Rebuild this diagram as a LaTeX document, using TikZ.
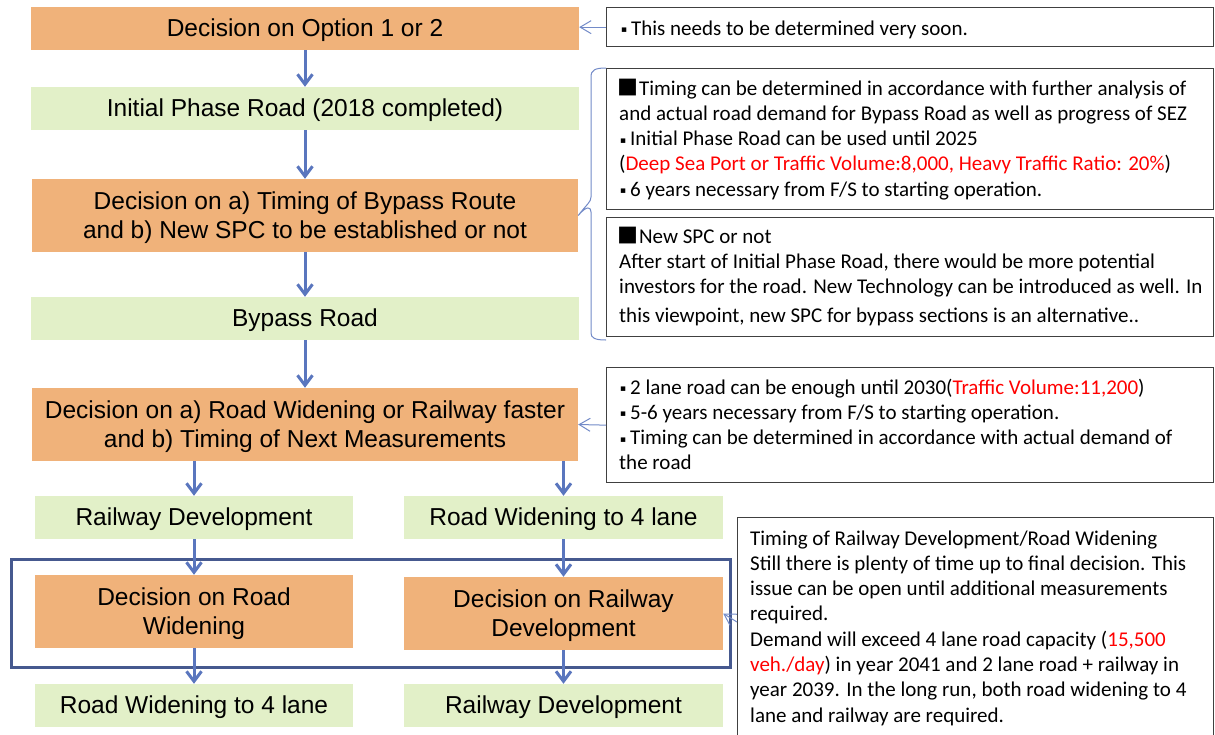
\documentclass[tikz,border=0pt]{standalone}
\usepackage{fontspec}
\setmainfont{Liberation Sans}
\newfontfamily\notefont{Carlito}
\newfontfamily\cjk{Noto Sans CJK JP}
\newfontfamily\symfont{DejaVu Sans}
\usetikzlibrary{arrows.meta}

\definecolor{decfill}{HTML}{F0B27A}
\definecolor{phasefill}{HTML}{E2F0C8}
\definecolor{flowblue}{HTML}{5A76BE}
\definecolor{framecol}{HTML}{46598F}
\definecolor{noteline}{HTML}{404040}
\definecolor{notered}{HTML}{FF0000}

% bullet marks used in the notes
\newcommand\dotmark{\makebox[0.52em][l]{\hspace{0.04em}\raisebox{0.12em}{\symfont\fontsize{9}{9}\selectfont ▪}}}
\newcommand\sqmark{\makebox[0.95em][l]{\hspace{-0.08em}{\cjk ■}}}
\newcommand\hl[1]{\textcolor{notered}{#1}}
% centred label text of the flow boxes, set slightly low as in a slide
\newcommand\stagetext[1]{\raisebox{-2.6pt}[\height][\depth]{\begin{tabular}{@{}c@{}}#1\end{tabular}}}

\begin{document}
\begin{tikzpicture}[x=1pt,y=-1pt,
  stage/.style={rectangle, inner sep=0pt,
    font=\fontsize{24.5}{29}\selectfont, text=black},
  decision/.style={stage, fill=decfill},
  phase/.style={stage, fill=phasefill},
  flow/.style={draw=flowblue, line width=3pt,
    -{Straight Barb[length=10pt,width=15pt]}},
  notebox/.style={draw=noteline, line width=1.3pt, inner sep=0pt,
    anchor=north west, fill=white},
  notetext/.style={anchor=base west, inner sep=0pt,
    font=\notefont\fontsize{21}{25.3}\selectfont},
  pointer/.style={draw=flowblue!85, line width=1pt,
    -{Straight Barb[length=11pt,width=13pt]}},
  bracket/.style={draw=flowblue!85, line width=1pt},
  groupframe/.style={draw=framecol, line width=2.5pt, inner sep=0pt,
    anchor=north west},
]
\useasboundingbox (0,0) rectangle (1215,734);
\clip (0,0) rectangle (1215,734);
\fill[white] (0,0) rectangle (1215,734);

% main flow
\node[decision, minimum width=548pt, minimum height=43pt] (opt) at (305,28.5)
  {\stagetext{Decision on Option 1 or 2}};
\node[phase, minimum width=548pt, minimum height=43pt] (init) at (305,108.5)
  {\stagetext{Initial Phase Road (2018 completed)}};
\node[decision, minimum width=546pt, minimum height=73pt] (decA) at (305,215.5)
  {\stagetext{Decision on a) Timing of Bypass Route\\and b) New SPC to be established or not}};
\node[phase, minimum width=548pt, minimum height=43pt] (bypass) at (305,318.5)
  {\stagetext{Bypass Road}};
\node[decision, minimum width=546pt, minimum height=73pt] (decB) at (305,424.5)
  {\stagetext{Decision on a) Road Widening or Railway faster\\and b) Timing of Next Measurements}};

% two branches
\node[phase, minimum width=318pt, minimum height=43pt] (rail1) at (194,517.5)
  {\stagetext{Railway Development}};
\node[phase, minimum width=319pt, minimum height=43pt] (road1) at (563.5,517.5)
  {\stagetext{Road Widening to 4 lane}};

\node[groupframe, minimum width=719pt, minimum height=108pt] (group) at (10,558) {};

\node[decision, minimum width=318pt, minimum height=73pt] (decRW) at (194,611.5)
  {\stagetext{Decision on Road\\Widening}};
\node[decision, minimum width=319pt, minimum height=73pt] (decRD) at (563.5,613.5)
  {\stagetext{Decision on Railway\\Development}};
\node[phase, minimum width=318pt, minimum height=43pt] (road2) at (194,705.5)
  {\stagetext{Road Widening to 4 lane}};
\node[phase, minimum width=319pt, minimum height=43pt] (rail2) at (563.5,705.5)
  {\stagetext{Railway Development}};

% flow arrows
\draw[flow] (opt.south) -- (init.north);
\draw[flow] (init.south) -- (decA.north);
\draw[flow] (decA.south) -- (bypass.north);
\draw[flow] (bypass.south) -- (decB.north);
\draw[flow] (decB.south -| rail1) -- (rail1.north);
\draw[flow] (decB.south -| road1) -- (road1.north);
\draw[flow] (rail1.south) -- (decRW.north);
\draw[flow] (road1.south) -- (decRD.north);
\draw[flow] (decRW.south) -- (road2.north);
\draw[flow] (decRD.south) -- (rail2.north);

% notes
\node[notebox, minimum width=607pt, minimum height=39pt] (n1) at (606,7) {};
\node[notetext] (t1) at (620,35) {\dotmark This needs to be determined very soon.};

\node[notebox, minimum width=607pt, minimum height=141pt] (n2) at (606,68) {};
\node[notetext] (t2) at (619,95) {\parbox[t]{590pt}{\raggedright
  \sqmark Timing can be determined in accordance with further analysis of\\
  and actual road demand for Bypass Road as well as progress of SEZ\\
  \dotmark Initial Phase Road can be used until 2025\\
  (\hl{Deep Sea Port or Traffic Volume:8,000, Heavy Traffic Ratio: 20\%})\\
  \dotmark 6 years necessary from F/S to starting operation.}};

\node[notebox, minimum width=607pt, minimum height=119pt] (n3) at (606,217) {};
\node[notetext] (t3) at (619,243) {\parbox[t]{590pt}{\raggedright
  \sqmark New SPC or not\\
  After start of Initial Phase Road, there would be more potential\\
  investors for the road. New Technology can be introduced as well. In\\[3.7pt]
  this viewpoint, new SPC for bypass sections is an alternative..}};

\node[notebox, minimum width=607pt, minimum height=115pt] (n4) at (606,367) {};
\node[notetext] (t4) at (619,394) {\parbox[t]{590pt}{\raggedright
  \dotmark 2 lane road can be enough until 2030(\hl{Traffic Volume:11,200})\\
  \dotmark 5-6 years necessary from F/S to starting operation.\\
  \dotmark Timing can be determined in accordance with actual demand of\\
  the road}};

\node[notebox, minimum width=476pt, minimum height=240pt] (n5) at (737,517) {};
\node[notetext] (t5) at (750,545) {\parbox[t]{460pt}{\raggedright
  Timing of Railway Development/Road Widening\\
  Still there is plenty of time up to final decision. This\\
  issue can be open until additional measurements\\
  required.\\
  Demand will exceed 4 lane road capacity (\hl{15,500}\\
  \hl{veh./day}) in year 2041 and 2 lane road + railway in\\
  year 2039. In the long run, both road widening to 4\\
  lane and railway are required.}};

% pointers from notes to decisions
\draw[pointer] (n1.west) -- (opt.east |- n1.west);
\draw[pointer] (n4.west) -- (decB.east);
\draw[pointer] ([yshift=-105pt]n5.north west) -- (decRD.east);

% bracket grouping the two notes on the bypass decision
\draw[bracket] (n2.north west) .. controls (595,68) and (591,70) .. (591,77)
  -- (591,197) .. controls (591,202) and (587,204) .. (decA.east)
  .. controls (587,205) and (591,207) .. (591,212)
  -- (591,333) .. controls (591,338) and (595,340) .. (606,340);
\end{tikzpicture}
\end{document}
